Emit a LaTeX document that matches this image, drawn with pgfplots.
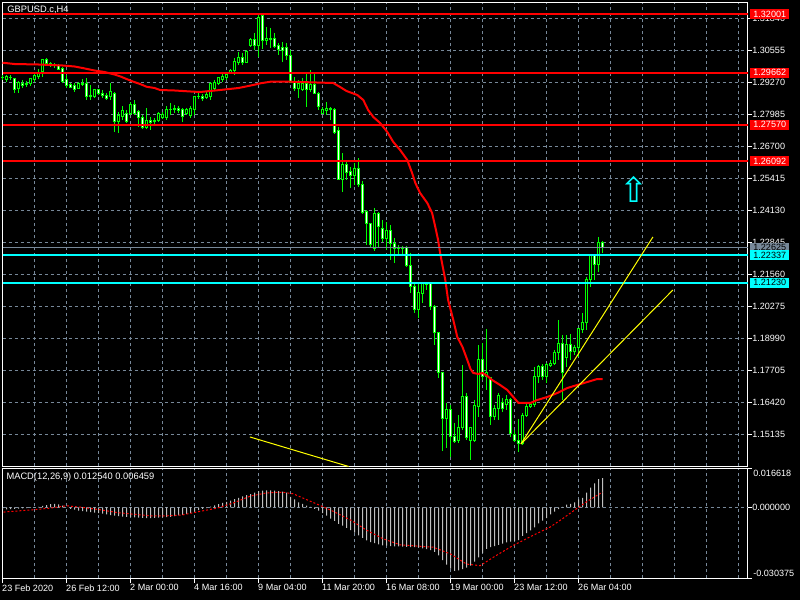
\documentclass[border=0pt]{standalone}
\usepackage{pgfplots}
\usepackage{pgfplotstable}
\pgfplotsset{compat=1.18}
\usepackage{fontspec}
\setmainfont{Liberation Sans}
\newfontfamily\djv{DejaVu Sans}
\definecolor{gridc}{RGB}{119,136,153}
\definecolor{lime}{RGB}{0,255,0}
\definecolor{aqua}{RGB}{0,255,255}
\definecolor{silv}{RGB}{192,192,192}
\definecolor{pure}{RGB}{255,0,0}
\definecolor{yel}{RGB}{255,255,0}
\newcommand\lbl{\fontsize{6.8pt}{8pt}\selectfont}
\newcommand\ttl{\fontsize{7pt}{8pt}\selectfont}

\pgfplotstableread{
k O H L C
0 1.29443 1.29563 1.29363 1.29483
1 1.29363 1.29563 1.29282 1.29523
2 1.29483 1.29563 1.29363 1.29463
3 1.29403 1.29443 1.28840 1.29001
4 1.29041 1.29322 1.28840 1.29282
5 1.29242 1.29363 1.29041 1.29122
6 1.29162 1.29322 1.29081 1.29242
7 1.29202 1.29443 1.29122 1.29403
8 1.29363 1.29644 1.29282 1.29563
9 1.29523 1.29804 1.29403 1.29644
10 1.29684 1.30206 1.29483 1.30166
11 1.30166 1.30246 1.29965 1.30045
12 1.30045 1.30085 1.29885 1.29965
13 1.29965 1.30045 1.29844 1.29925
14 1.29925 1.30005 1.29764 1.29804
15 1.29844 1.29885 1.29242 1.29322
16 1.29363 1.29563 1.29041 1.29122
17 1.29162 1.29242 1.29041 1.29081
18 1.29122 1.29242 1.28881 1.29001
19 1.29041 1.29282 1.29001 1.29242
20 1.29242 1.29403 1.29122 1.29162
21 1.29242 1.29443 1.28559 1.28680
22 1.28720 1.29162 1.28559 1.28760
23 1.28680 1.29001 1.28640 1.28961
24 1.28961 1.29001 1.28760 1.28840
25 1.28840 1.28961 1.28640 1.28760
26 1.28760 1.28840 1.28559 1.28600
27 1.28680 1.29242 1.28559 1.28881
28 1.28840 1.28881 1.27274 1.27676
29 1.27676 1.28078 1.27234 1.27917
30 1.27877 1.28318 1.27756 1.28118
31 1.28037 1.28158 1.27636 1.27676
32 1.28037 1.28479 1.27957 1.28359
33 1.28359 1.28559 1.27957 1.28037
34 1.28078 1.28158 1.27475 1.27837
35 1.27837 1.27957 1.27395 1.27475
36 1.27475 1.28238 1.27395 1.27756
37 1.27756 1.27877 1.27355 1.27636
38 1.27676 1.27837 1.27596 1.27756
39 1.27756 1.28078 1.27676 1.28037
40 1.27837 1.28078 1.27796 1.27997
41 1.27837 1.28318 1.27756 1.28158
42 1.28158 1.28439 1.27957 1.28198
43 1.28158 1.28359 1.28037 1.28238
44 1.28238 1.28318 1.28037 1.28118
45 1.28158 1.28238 1.27676 1.27877
46 1.28037 1.28238 1.27957 1.28158
47 1.27957 1.28318 1.27837 1.28238
48 1.28198 1.28680 1.27957 1.28680
49 1.28680 1.28840 1.28600 1.28720
50 1.28720 1.28800 1.28519 1.28600
51 1.28640 1.28881 1.28600 1.28800
52 1.28680 1.29282 1.28559 1.29242
53 1.29041 1.29363 1.28961 1.29282
54 1.29242 1.29483 1.29162 1.29443
55 1.29363 1.29644 1.29282 1.29523
56 1.29443 1.29684 1.29363 1.29603
57 1.29644 1.29804 1.29603 1.29764
58 1.29724 1.30246 1.29563 1.30125
59 1.30085 1.30487 1.29965 1.30286
60 1.30286 1.30447 1.29965 1.30085
61 1.30085 1.30567 1.30045 1.30487
62 1.30728 1.31049 1.30688 1.30969
63 1.30969 1.31250 1.30567 1.30728
64 1.30728 1.31973 1.30286 1.31892
65 1.31933 1.31973 1.30607 1.30929
66 1.30929 1.31491 1.30768 1.31009
67 1.31049 1.31451 1.30648 1.30969
68 1.31049 1.31250 1.30648 1.30688
69 1.30728 1.30848 1.30366 1.30607
70 1.30648 1.30888 1.30085 1.30567
71 1.30648 1.30848 1.30166 1.30366
72 1.30366 1.30567 1.29242 1.29282
73 1.29282 1.29483 1.28921 1.29041
74 1.29041 1.29363 1.28640 1.29242
75 1.29001 1.29443 1.28921 1.29242
76 1.29242 1.29684 1.28278 1.28961
77 1.28961 1.29764 1.28881 1.29162
78 1.29162 1.29644 1.28800 1.28840
79 1.28840 1.28881 1.28158 1.28318
80 1.28037 1.28278 1.27997 1.28158
81 1.28118 1.28479 1.27957 1.28238
82 1.28158 1.28278 1.27756 1.28238
83 1.28158 1.28238 1.27194 1.27274
84 1.27315 1.27475 1.25347 1.25387
85 1.25387 1.26431 1.24865 1.25989
86 1.25989 1.26070 1.25347 1.25668
87 1.25708 1.25869 1.25026 1.25508
88 1.25508 1.26030 1.25146 1.25789
89 1.25789 1.26230 1.25066 1.25186
90 1.25186 1.25307 1.23982 1.24022
91 1.24062 1.24142 1.22737 1.23580
92 1.23580 1.23620 1.22616 1.22737
93 1.22616 1.24223 1.22496 1.23982
94 1.23982 1.24062 1.22656 1.23460
95 1.23419 1.23741 1.22857 1.22978
96 1.22978 1.23660 1.22536 1.23339
97 1.23299 1.23540 1.22134 1.22777
98 1.22777 1.23018 1.22014 1.22616
99 1.22656 1.22737 1.22375 1.22616
100 1.22656 1.22697 1.22375 1.22616
101 1.22656 1.22697 1.21853 1.21894
102 1.21894 1.22416 1.20809 1.21090
103 1.21090 1.21171 1.20006 1.20127
104 1.20127 1.21211 1.19805 1.20849
105 1.20809 1.21211 1.20408 1.21171
106 1.21131 1.21211 1.20930 1.21171
107 1.21171 1.21211 1.20127 1.20247
108 1.20247 1.20327 1.18721 1.19203
109 1.19203 1.19243 1.17396 1.17597
110 1.17597 1.17637 1.14465 1.15750
111 1.15750 1.16392 1.14585 1.16111
112 1.16111 1.16312 1.14224 1.15027
113 1.15027 1.15589 1.14786 1.14826
114 1.14906 1.15910 1.14786 1.15428
115 1.15428 1.17918 1.15308 1.16633
116 1.16633 1.16794 1.14906 1.14987
117 1.14906 1.15428 1.14103 1.15388
118 1.14906 1.16513 1.14826 1.16272
119 1.16232 1.18721 1.15830 1.18119
120 1.18119 1.18801 1.17316 1.17436
121 1.17436 1.19364 1.16914 1.17597
122 1.17396 1.17436 1.15509 1.15830
123 1.15830 1.16312 1.15709 1.16151
124 1.16191 1.16794 1.15709 1.16713
125 1.16432 1.16593 1.16031 1.16151
126 1.16312 1.16713 1.16111 1.16513
127 1.16513 1.16593 1.15027 1.15187
128 1.15147 1.15308 1.14826 1.14906
129 1.14906 1.15750 1.14424 1.14746
130 1.14746 1.15991 1.14706 1.15910
131 1.15910 1.16392 1.15830 1.16232
132 1.16232 1.16352 1.16191 1.16312
133 1.16312 1.17838 1.16232 1.17436
134 1.17436 1.17918 1.17195 1.17838
135 1.17838 1.17958 1.17316 1.17476
136 1.17436 1.17998 1.17195 1.17918
137 1.17878 1.18119 1.17838 1.17998
138 1.17998 1.18520 1.17918 1.18400
139 1.18400 1.19725 1.18119 1.18801
140 1.18801 1.19123 1.16513 1.17597
141 1.18199 1.19123 1.17838 1.18761
142 1.18761 1.19163 1.18119 1.18440
143 1.18440 1.18721 1.18320 1.18601
144 1.18601 1.19404 1.18239 1.19364
145 1.19324 1.20006 1.19203 1.19605
146 1.19605 1.21452 1.19324 1.21371
147 1.21371 1.22335 1.21050 1.22295
148 1.22295 1.22335 1.21331 1.21934
149 1.21934 1.23058 1.21653 1.22857
150 1.22857 1.22897 1.22416 1.22625
}\candles

\pgfplotstableread{
k p
0 1.30057
3 1.30005
9 1.29985
15 1.29945
18 1.29905
20 1.29844
23 1.29744
25.5 1.29684
28 1.29583
29.5 1.29503
31 1.29403
32.7 1.29294
34.4 1.29202
36 1.29093
38 1.29041
39.4 1.28961
43 1.28941
47 1.28901
49.4 1.28881
54.4 1.28961
59 1.29041
62.7 1.29162
64.5 1.29230
67 1.29294
72 1.29294
82.7 1.29242
84.4 1.29081
86 1.28921
88.7 1.28760
90.2 1.28559
91.4 1.28158
92.7 1.27877
94.4 1.27636
96.2 1.27274
97.7 1.26873
99.4 1.26552
101.2 1.26150
102.4 1.25628
103.2 1.25226
104.4 1.24825
106.2 1.24423
107.4 1.24022
108.2 1.23460
108.9 1.22938
109.4 1.22416
110.7 1.21331
111.4 1.20528
112.7 1.19725
113.7 1.19042
115 1.18641
116.2 1.18119
117 1.17757
117.7 1.17597
119 1.17557
120 1.17597
121.2 1.17476
122.4 1.17316
124.4 1.17115
126.2 1.16914
127.7 1.16633
129 1.16392
132 1.16392
133.7 1.16513
136.2 1.16633
138.7 1.16794
141.2 1.16994
143.7 1.17115
146.2 1.17235
148.7 1.17355
150 1.17355
}\ma

\pgfplotstableread{
k h
0 -0.0008
1 -0.0008
2 -0.0007
3 -0.0006
4 -0.0005
5 -0.0004
6 -0.0003
7 -0.0002
8 -0.0001
9 0.0002
10 0.0006
11 0.0010
12 0.0014
13 0.0015
14 0.0013
15 0.0008
16 0.0000
17 -0.0006
18 -0.0010
19 -0.0014
20 -0.0016
21 -0.0018
22 -0.0020
23 -0.0022
24 -0.0024
25 -0.0027
26 -0.0030
27 -0.0033
28 -0.0035
29 -0.0037
30 -0.0039
31 -0.0040
32 -0.0042
33 -0.0043
34 -0.0044
35 -0.0045
36 -0.0046
37 -0.0046
38 -0.0045
39 -0.0044
40 -0.0043
41 -0.0042
42 -0.0040
43 -0.0037
44 -0.0034
45 -0.0032
46 -0.0028
47 -0.0023
48 -0.0018
49 -0.0012
50 -0.0006
51 -0.0003
52 0.0003
53 0.0009
54 0.0014
55 0.0019
56 0.0024
57 0.0029
58 0.0035
59 0.0041
60 0.0047
61 0.0052
62 0.0057
63 0.0063
64 0.0069
65 0.0072
66 0.0073
67 0.0073
68 0.0072
69 0.0070
70 0.0067
71 0.0063
72 0.0045
73 0.0034
74 0.0022
75 0.0015
76 0.0008
77 0.0002
78 -0.0006
79 -0.0014
80 -0.0024
81 -0.0035
82 -0.0048
83 -0.0058
84 -0.0070
85 -0.0078
86 -0.0088
87 -0.0097
88 -0.0108
89 -0.0119
90 -0.0130
91 -0.0141
92 -0.0148
93 -0.0153
94 -0.0158
95 -0.0162
96 -0.0163
97 -0.0165
98 -0.0166
99 -0.0167
100 -0.0168
101 -0.0169
102 -0.0170
103 -0.0170
104 -0.0172
105 -0.0175
106 -0.0178
107 -0.0182
108 -0.0190
109 -0.0205
110 -0.0225
111 -0.0245
112 -0.0262
113 -0.0271
114 -0.0269
115 -0.0264
116 -0.0257
117 -0.0249
118 -0.0232
119 -0.0213
120 -0.0195
121 -0.0177
122 -0.0170
123 -0.0165
124 -0.0160
125 -0.0155
126 -0.0149
127 -0.0146
128 -0.0143
129 -0.0140
130 -0.0122
131 -0.0110
132 -0.0098
133 -0.0085
134 -0.0068
135 -0.0057
136 -0.0046
137 -0.0030
138 -0.0018
139 -0.0007
140 0.0002
141 0.0012
142 0.0015
143 0.0022
144 0.0034
145 0.0041
146 0.0063
147 0.0084
148 0.0103
149 0.0121
150 0.0125
}\hist

\pgfplotstableread{
k s
0.25 -0.0020
7.7 -0.0010
12 -0.0003
16 0.0007
20 0.0000
24.4 -0.0010
28.6 -0.0022
32.7 -0.0029
37 -0.0036
41 -0.0036
45 -0.0032
49.4 -0.0017
53.7 -0.0003
57.7 0.0019
61.9 0.0048
66 0.0062
70 0.0065
72.7 0.0058
77 0.0026
80 0.0004
82.7 -0.0017
87 -0.0054
91 -0.0097
95 -0.0133
99.4 -0.0160
107.7 -0.0170
112 -0.0199
116 -0.0242
119.4 -0.0249
122.7 -0.0213
127.7 -0.0162
132.7 -0.0119
137 -0.0083
140.2 -0.0046
143.7 -0.0003
146.2 0.0026
148.7 0.0052
150 0.0065
}\signal

\begin{document}
\begin{tikzpicture}
\fill[black] (0,0) rectangle (600pt,450pt);
\useasboundingbox (0,0) rectangle (600pt,450pt);

\begin{axis}[
  name=main, anchor=south west, at={(1.875pt,100.125pt)},
  scale only axis, width=558.75pt, height=348pt,
  xmin=0, xmax=186.25, ymin=1.13842, ymax=1.32475,
  clip=false,
  axis line style={white, line width=0.75pt},
  tick align=outside,
  xtick={8,16,...,184}, xticklabels={}, x tick style={draw=none},
  ytick={1.15135,1.16420,1.17705,1.18990,1.20275,1.21560,1.22845,1.24130,1.25415,1.26700,1.27985,1.29270,1.30555,1.31840},
  yticklabels={1.15135,1.16420,1.17705,1.18990,1.20275,1.21560,1.22845,1.24130,1.25415,1.26700,1.27985,1.29270,1.30555,1.31840},
  ytick pos=right, yticklabel pos=right,
  y tick style={white, line width=0.75pt}, major tick length=3.4pt,
  yticklabel style={font=\lbl, text=white, inner sep=0pt, anchor=west},
  grid=major,
  major grid style={gridc, line width=0.75pt, dash pattern=on 2.25pt off 2.25pt},
]
% candles: wick from high to low, body box from open to close
\pgfplotsinvokeforeach{0,...,150}{%
  \pgfplotstablegetelem{#1}{O}\of\candles \let\vO\pgfplotsretval
  \pgfplotstablegetelem{#1}{H}\of\candles \let\vH\pgfplotsretval
  \pgfplotstablegetelem{#1}{L}\of\candles \let\vL\pgfplotsretval
  \pgfplotstablegetelem{#1}{C}\of\candles \let\vC\pgfplotsretval
  \pgfmathsetmacro\xa{#1-0.25}%
  \pgfmathsetmacro\xb{#1+0.25}%
  \ifdim\vO pt>\vC pt \def\bfc{white}\else\def\bfc{black}\fi
  \edef\temp{\noexpand\addplot[lime, line width=0.75pt, forget plot] coordinates {(#1,\vH) (#1,\vL)};%
    \noexpand\addplot[draw=lime, fill=\bfc, line width=0.75pt, line join=miter, forget plot] coordinates {(\xa,\vO) (\xb,\vO) (\xb,\vC) (\xa,\vC)} -- cycle;}%
  \temp
}
% moving average
\addplot[pure, line width=1.5pt] table[x=k, y=p] {\ma};
% horizontal lines
\addplot[pure, line width=1.5pt] coordinates {(0,1.32001) (186.25,1.32001)};
\addplot[pure, line width=1.5pt] coordinates {(0,1.29662) (186.25,1.29662)};
\addplot[pure, line width=1.5pt] coordinates {(0,1.27570) (186.25,1.27570)};
\addplot[pure, line width=1.5pt] coordinates {(0,1.26092) (186.25,1.26092)};
\addplot[gridc, line width=0.75pt] coordinates {(0,1.22625) (186.25,1.22625)};
\addplot[aqua, line width=1.5pt] coordinates {(0,1.22337) (186.25,1.22337)};
\addplot[aqua, line width=1.5pt] coordinates {(0,1.21230) (186.25,1.21230)};
% trend lines
\addplot[yel, line width=0.75pt] coordinates {(61.875,1.15027) (86.55,1.13842)};
\addplot[yel, line width=0.75pt] coordinates {(129.6,1.14746) (162.6,1.23058)};
\addplot[yel, line width=0.75pt] coordinates {(129.6,1.14746) (167.6,1.20930)};
% arrow
\addplot[aqua, only marks, mark=text,
  text mark={\fontsize{26pt}{26pt}\selectfont\djv\color{aqua}⇧}]
  coordinates {(157.9,1.24985)};
\coordinate (L1) at (axis cs:186.25,1.32001);
\coordinate (L2) at (axis cs:186.25,1.29662);
\coordinate (L3) at (axis cs:186.25,1.27570);
\coordinate (L4) at (axis cs:186.25,1.26092);
\coordinate (L5) at (axis cs:186.25,1.22625);
\coordinate (L6) at (axis cs:186.25,1.22337);
\coordinate (L7) at (axis cs:186.25,1.21230);
\end{axis}

\begin{axis}[
  name=macd, anchor=south west, at={(1.875pt,16.125pt)},
  scale only axis, width=558.75pt, height=82.5pt,
  xmin=0, xmax=186.25, ymin=-0.030375, ymax=0.016618,
  scaled y ticks=false,
  axis line style={white, line width=0.75pt},
  tick align=outside,
  xtick={0,16,...,144},
  xticklabels={23 Feb 2020,26 Feb 12:00,2 Mar 00:00,4 Mar 16:00,9 Mar 04:00,11 Mar 20:00,16 Mar 08:00,19 Mar 00:00,23 Mar 12:00,26 Mar 04:00},
  minor xtick={8,24,40,56,72,88,104,120,136,152,160,168,176,184},
  xtick pos=left,
  xticklabel style={font=\lbl, text=white, anchor=north west, inner sep=0pt, xshift=-0.4pt, yshift=-1pt},
  x tick style={white, line width=0.75pt},
  major tick length=3.4pt, minor tick length=0pt,
  xmajorgrids, xminorgrids,
  major grid style={gridc, line width=0.75pt, dash pattern=on 2.25pt off 2.25pt},
  minor grid style={gridc, line width=0.75pt, dash pattern=on 2.25pt off 2.25pt},
  ytick={-0.030375,0,0.016618}, yticklabels={,0.000000,},
  ytick pos=right, yticklabel pos=right,
  y tick style={white, line width=0.75pt},
  yticklabel style={font=\lbl, text=white, inner sep=0pt, anchor=west},
]
\addplot[gridc, line width=0.75pt, dash pattern=on 2.25pt off 2.25pt] coordinates {(0,0) (186.25,0)};
\addplot[ybar, bar width=0.75pt, fill=silv, draw=none] table[x=k, y=h] {\hist};
\addplot[pure, line width=0.75pt, dash pattern=on 1.5pt off 1.5pt] table[x=k, y=s] {\signal};
\end{axis}

% annotations
\node[anchor=north west, text=white, font=\ttl, inner sep=0pt] at ([xshift=3.5pt,yshift=-2.3pt]main.north west) {GBPUSD.c,H4};
\node[anchor=north west, text=white, font=\ttl, inner sep=0pt] at ([xshift=2.8pt,yshift=-3.3pt]macd.north west) {MACD(12,26,9) 0.012540 0.006459};
\node[anchor=north west, text=white, font=\lbl, inner sep=0pt] at ([xshift=4.2pt,yshift=-1.3pt]macd.north east) {0.016618};
\node[anchor=south west, text=white, font=\lbl, inner sep=0pt] at ([xshift=4.2pt,yshift=1.5pt]macd.south east) {-0.030375};

\tikzset{pbox/.style={anchor=west, font=\lbl, inner sep=0pt, minimum width=29.25pt, minimum height=7.5pt}}
\node[pbox, fill=pure, text=white] at ([xshift=1.875pt]L1) {1.32001};
\node[pbox, fill=pure, text=white] at ([xshift=1.875pt]L2) {1.29662};
\node[pbox, fill=pure, text=white] at ([xshift=1.875pt]L3) {1.27570};
\node[pbox, fill=pure, text=white] at ([xshift=1.875pt]L4) {1.26092};
\node[pbox, fill=gridc, text=black] at ([xshift=1.875pt]L5) {1.22625};
\node[pbox, fill=aqua, text=black] at ([xshift=1.875pt]L6) {1.22337};
\node[pbox, fill=aqua, text=black] at ([xshift=1.875pt]L7) {1.21230};
\end{tikzpicture}
\end{document}
